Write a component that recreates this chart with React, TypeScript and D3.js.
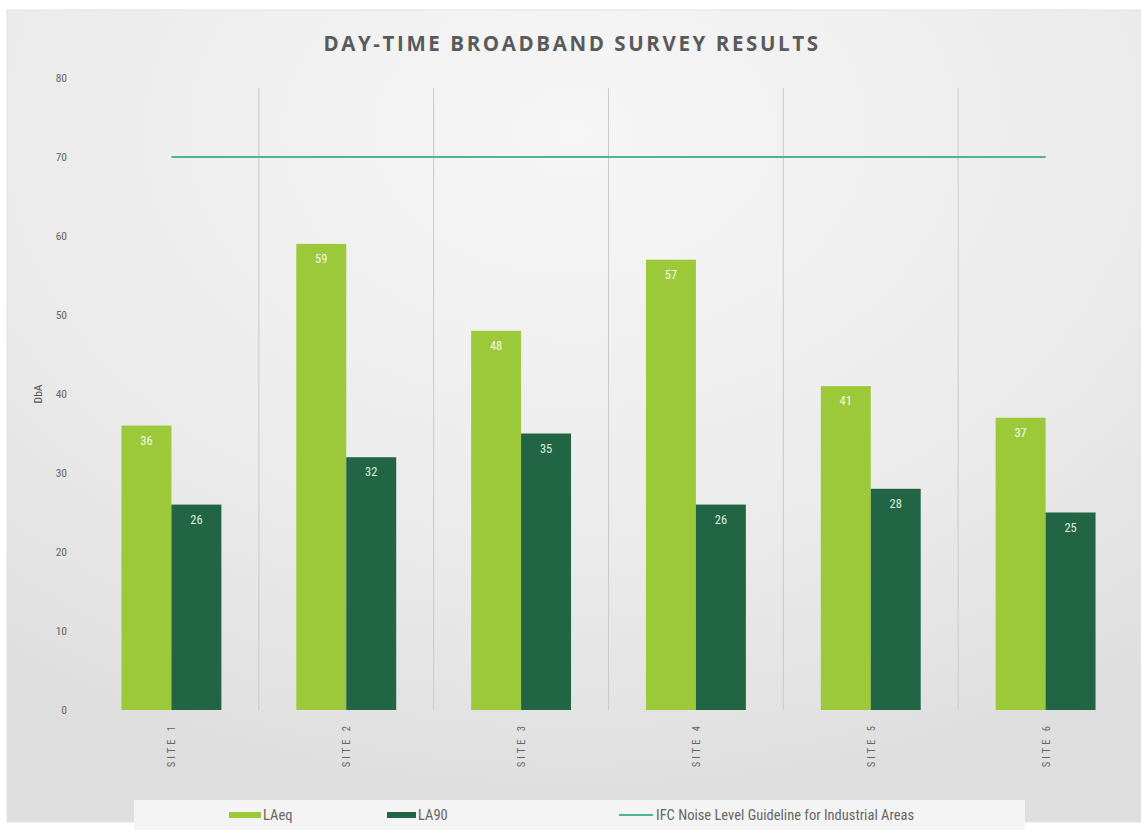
import React from "react";
import * as d3 from "d3";

const sites = ["SITE 1", "SITE 2", "SITE 3", "SITE 4", "SITE 5", "SITE 6"];
const laeq = [36, 59, 48, 57, 41, 37];
const la90 = [26, 32, 35, 26, 28, 25];
const guideline = [70, 70, 70, 70, 70, 70];
const yTicks = [0, 10, 20, 30, 40, 50, 60, 70, 80];
const seriesNames = ["LAeq", "LA90", "IFC Noise Level Guideline for Industrial Areas"];

const W = 1141;
const H = 835;
const plot = { left: 84, right: 1133, top: 78, bottom: 710 };

const C_LAEQ = "#9bc93a";
const C_LA90 = "#216544";
const C_LINE = "#4db597";
const FONT = "'Liberation Sans Narrow', 'Roboto Condensed', Roboto, Arial, sans-serif";

export default function App() {
  const x = d3.scaleBand<string>().domain(sites).range([plot.left, plot.right]).paddingInner(0).paddingOuter(0);
  const inner = d3
    .scaleBand<string>()
    .domain(["LAeq", "LA90"])
    .range([0, x.bandwidth()])
    .paddingOuter(75 / 200 / 0.5)
    .paddingInner(0);
  const y = d3.scaleLinear().domain([0, 80]).range([plot.bottom, plot.top]);
  const line = d3
    .line<number>()
    .x((_, i) => (x(sites[i]) as number) + x.bandwidth() / 2)
    .y((v) => y(v));

  const bw = inner.bandwidth();

  return (
    <svg
      width={W}
      height={H}
      style={{ position: "fixed", left: 0, top: 0, display: "block" }}
      fontFamily={FONT}
    >
      <defs>
        <radialGradient id="bg" cx="0.5" cy="0.15" r="0.85">
          <stop offset="0" stopColor="#f6f6f6" />
          <stop offset="0.6" stopColor="#ebebeb" />
          <stop offset="1" stopColor="#dedede" />
        </radialGradient>
      </defs>
      <rect x={0} y={0} width={W} height={H} fill="#ffffff" />
      <rect x={7} y={10} width={W - 7} height={812} fill="url(#bg)" stroke="#e2e2e2" />

      <text
        x={572}
        y={51}
        textAnchor="middle"
        fontFamily="'Open Sans', 'DejaVu Sans', sans-serif"
        fontWeight={700}
        fontSize={20.5}
        letterSpacing={2.6}
        fill="#5a5a5a"
      >
        DAY-TIME BROADBAND SURVEY RESULTS
      </text>

      {/* band dividers */}
      {sites.slice(1).map((s) => (
        <line
          key={s}
          x1={x(s) as number}
          x2={x(s) as number}
          y1={plot.top + 10}
          y2={plot.bottom}
          stroke="#c9c9c9"
          strokeWidth={1}
        />
      ))}

      {/* y ticks */}
      {yTicks.map((t) => (
        <text key={t} x={67} y={y(t) + 4} textAnchor="end" fontSize={11.5} fill="#666">
          {t}
        </text>
      ))}
      <text
        transform={`translate(42, ${y(40)}) rotate(-90)`}
        textAnchor="middle"
        fontSize={11.5}
        fill="#555"
      >
        DbA
      </text>

      {/* bars */}
      {sites.map((s, i) => {
        const x0 = x(s) as number;
        const xa = x0 + (inner("LAeq") as number);
        const xb = x0 + (inner("LA90") as number);
        return (
          <g key={s}>
            <rect x={xa} y={y(laeq[i])} width={bw} height={y(0) - y(laeq[i])} fill={C_LAEQ} />
            <rect x={xb} y={y(la90[i])} width={bw} height={y(0) - y(la90[i])} fill={C_LA90} />
            <text x={xa + bw / 2} y={y(laeq[i]) + 19} textAnchor="middle" fontSize={12.5} fill="#f4f9e6">
              {laeq[i]}
            </text>
            <text x={xb + bw / 2} y={y(la90[i]) + 19} textAnchor="middle" fontSize={12.5} fill="#d9efe2">
              {la90[i]}
            </text>
            <text
              transform={`translate(${x0 + x.bandwidth() / 2 + 4}, ${plot.bottom + 13}) rotate(-90)`}
              textAnchor="end"
              fontSize={10.5}
              letterSpacing={3}
              fill="#666"
            >
              {s}
            </text>
          </g>
        );
      })}

      {/* guideline */}
      <path d={line(guideline) as string} fill="none" stroke={C_LINE} strokeWidth={2} />

      {/* legend */}
      <rect x={134} y={800} width={891} height={30} fill="#f4f4f4" />
      <rect x={229} y={812} width={32} height={6} fill={C_LAEQ} />
      <text x={263} y={820} fontSize={14.5} fill="#666">{seriesNames[0]}</text>
      <rect x={387} y={812} width={29} height={6} fill={C_LA90} />
      <text x={418} y={820} fontSize={14.5} fill="#666">{seriesNames[1]}</text>
      <line x1={619} x2={653} y1={815} y2={815} stroke={C_LINE} strokeWidth={2} />
      <text x={656} y={820} fontSize={14.5} fill="#666">{seriesNames[2]}</text>
    </svg>
  );
}
